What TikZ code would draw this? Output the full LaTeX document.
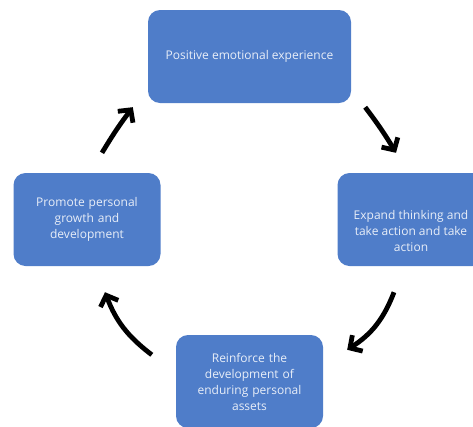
\documentclass[tikz,border=0pt]{standalone}
\usepackage{fontspec}
\setmainfont{Open Sans}
\usetikzlibrary{arrows.meta,
                positioning}
\definecolor{boxblue}{RGB}{79,125,201}
\definecolor{boxtext}{RGB}{232,238,248}

\begin{document}
\begin{tikzpicture}[x=1pt, y=-1pt]
    \tikzset
    {
        base/.style = {rectangle,
                       rounded corners = 12pt,
                       fill = boxblue,
                       text = boxtext,
                       align = center,
                       minimum height = 93pt,
                       font = \fontsize{12}{16}\selectfont},
        stepbox/.style = {base,
                          minimum width = 147pt,
                          text width = 136pt},
        widebox/.style = {base,
                          minimum width = 203pt},
        cycle arrow/.style = {line width = 4.8pt,
                              -{Straight Barb[length=9pt, width=19pt]}}
    };
    \clip (0,0) rectangle (473,426);

    % Top
    \node[widebox] (positive) at (249.5,56.5) {Positive emotional experience};
    % Middle row
    \node[stepbox] (promote) at (87,219.5) {Promote personal\\growth and\\development};
    \node[stepbox] (expand) at (411,219.5) {};
    \node[text = boxtext, align = center, font = \fontsize{12}{16}\selectfont]
        (expand text) at ([yshift=-11pt]expand.center)
        {Expand thinking and\\take action and take\\action};
    % Bottom
    \node[stepbox] (reinforce) at (249.5,381.5)
        {Reinforce the\\development of\\enduring personal\\assets};

    % Arrows
    \draw[cycle arrow]
        ([xshift=14pt, yshift=-4pt] positive.south east)
            to[bend left=3]  ([xshift=-15pt, yshift=20pt] expand.north);
    \draw[cycle arrow]
        ([xshift=-17pt, yshift=-26pt] expand.south)
            to[bend left=18] ([xshift=24pt, yshift=-15pt] reinforce.north east);
    \draw[cycle arrow]
        ([xshift=-24pt, yshift=-20pt] reinforce.north west)
            to[bend left=16] ([xshift=18pt, yshift=-26pt] promote.south);
    \draw[cycle arrow]
        ([xshift=15pt, yshift=20pt] promote.north)
            to[bend left=3]  ([xshift=-15pt, yshift=-4pt] positive.south west);

\end{tikzpicture}
\end{document}
